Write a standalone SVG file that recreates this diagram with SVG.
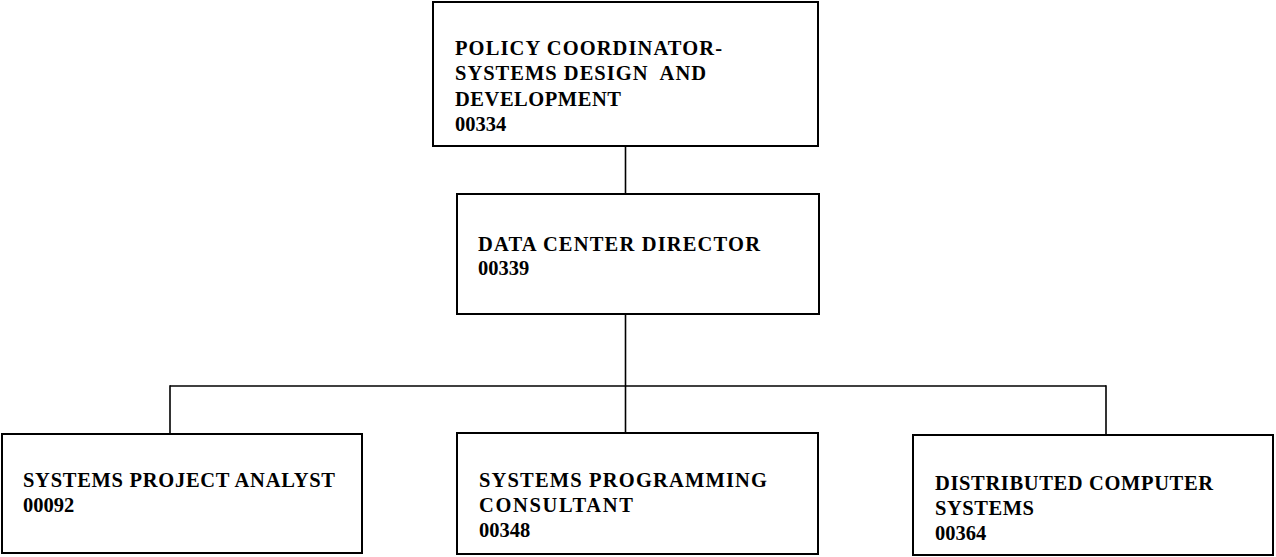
<svg xmlns="http://www.w3.org/2000/svg" width="1276" height="557" viewBox="0 0 1276 557">
<style>
.box{fill:#fff;stroke:#000;stroke-width:2}
.conn line{stroke:#000;stroke-width:1.6}
text{font-family:"Liberation Serif","Times New Roman",serif;font-weight:bold;font-size:20.5px;fill:#000}
</style>
<g id="connectors" class="conn">
<line x1="625.5" y1="146" x2="625.5" y2="194"/>
<line x1="625.5" y1="314" x2="625.5" y2="433"/>
<line x1="170" y1="386" x2="1106" y2="386"/>
<line x1="170" y1="385.2" x2="170" y2="434"/>
<line x1="1106" y1="385.2" x2="1106" y2="435"/>
</g>
<g id="policy-coordinator">
<rect class="box" x="433" y="2" width="385" height="144"/>
<text x="455" y="55" textLength="267" lengthAdjust="spacing">POLICY COORDINATOR-</text>
<text x="455" y="80" textLength="251" lengthAdjust="spacing" xml:space="preserve">SYSTEMS DESIGN  AND</text>
<text x="455" y="106" textLength="166" lengthAdjust="spacing">DEVELOPMENT</text>
<text x="455" y="131">00334</text>
</g>
<g id="data-center-director">
<rect class="box" x="457" y="194" width="362" height="120"/>
<text x="478" y="251" textLength="282" lengthAdjust="spacing">DATA CENTER DIRECTOR</text>
<text x="478" y="275">00339</text>
</g>
<g id="systems-project-analyst">
<rect class="box" x="2" y="434" width="360" height="119"/>
<text x="23" y="487" textLength="312" lengthAdjust="spacing">SYSTEMS PROJECT ANALYST</text>
<text x="23" y="512">00092</text>
</g>
<g id="systems-programming-consultant">
<rect class="box" x="457" y="433" width="361" height="121"/>
<text x="479" y="487" textLength="288" lengthAdjust="spacing">SYSTEMS PROGRAMMING</text>
<text x="479" y="512" textLength="154" lengthAdjust="spacing">CONSULTANT</text>
<text x="479" y="537">00348</text>
</g>
<g id="distributed-computer-systems">
<rect class="box" x="913" y="435" width="360" height="120"/>
<text x="935" y="490" textLength="278" lengthAdjust="spacing">DISTRIBUTED COMPUTER</text>
<text x="935" y="515" textLength="99" lengthAdjust="spacing">SYSTEMS</text>
<text x="935" y="540">00364</text>
</g>
</svg>
